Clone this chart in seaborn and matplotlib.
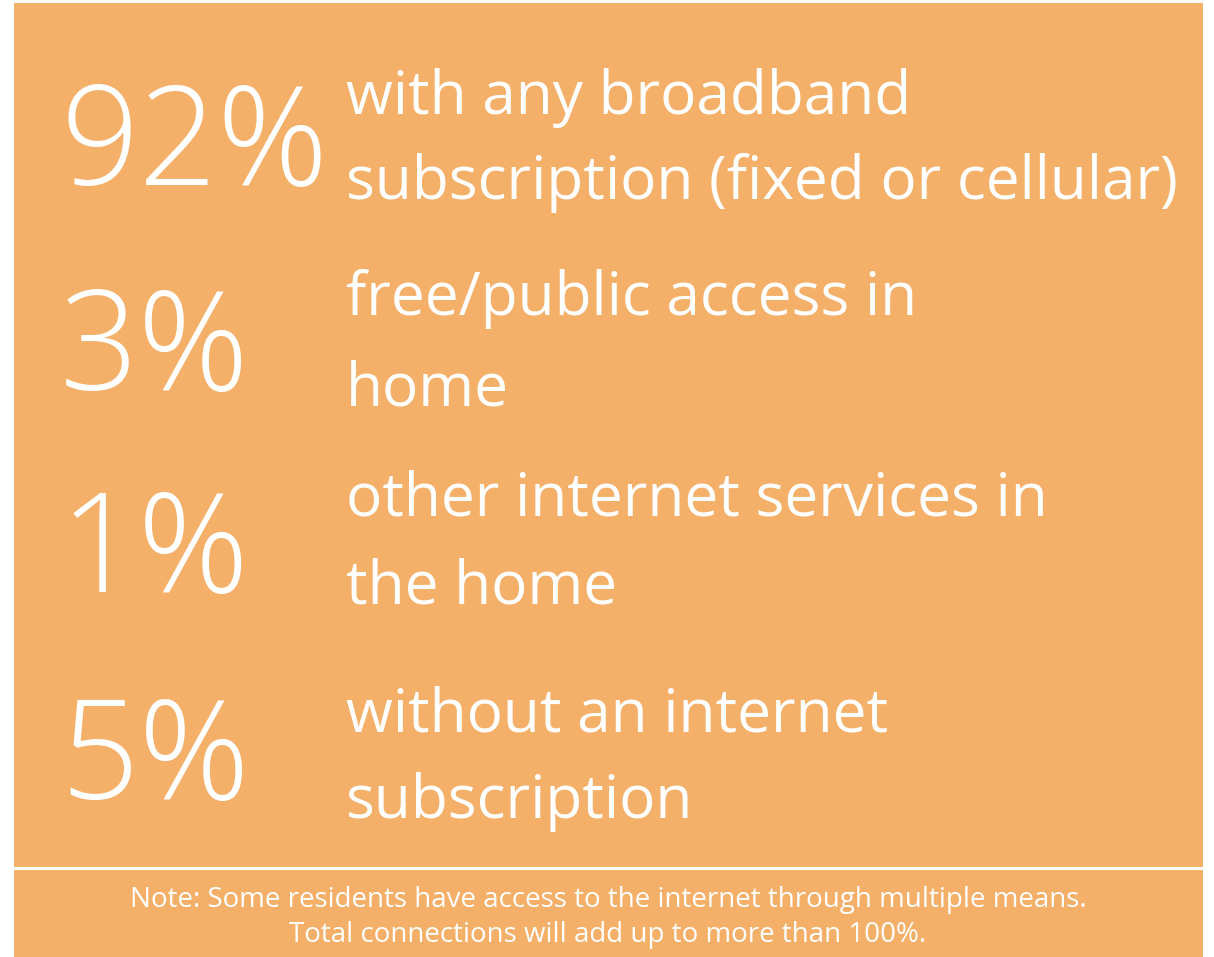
import matplotlib
matplotlib.use('Agg')
import matplotlib.pyplot as plt
import matplotlib.patches as mpatches
import seaborn as sns

sns.set_theme(style='white')
plt.rcParams['font.family'] = ['Open Sans', 'DejaVu Sans']

# values shown in the infographic
pct_values = [92, 3, 1, 5]
label_lines = [['with any broadband', 'subscription (fixed or cellular)'],
               ['free/public access in', 'home'],
               ['other internet services in', 'the home'],
               ['without an internet', 'subscription']]
note_lines = ['Note: Some residents have access to the internet through multiple means.',
              'Total connections will add up to more than 100%.']

bg_color = '#F4AF68'

# layout in pixels (figure is 1214 x 957)
num_base = [185, 390, 592, 799]
line_base = [[114, 199], [315, 405], [515, 603], [731, 818]]

fig = plt.figure(figsize=(12.14, 9.57), dpi=100)
ax = fig.add_axes([0, 0, 1, 1])
ax.set_xlim(0, 1214)
ax.set_ylim(957, 0)
ax.axis('off')

ax.add_patch(mpatches.Rectangle((14, 3), 1189, 864, color=bg_color, lw=0))
ax.add_patch(mpatches.Rectangle((14, 870), 1189, 90, color=bg_color, lw=0))

for v, nb, lines, lb in zip(pct_values, num_base, label_lines, line_base):
    ax.text(60, nb, '{}%'.format(v), color='white', fontsize=99, fontweight='light',
            ha='left', va='baseline')
    for txt, b in zip(lines, lb):
        ax.text(346, b, txt, color='white', fontsize=43.5, ha='left', va='baseline')

ax.text(608, 907, note_lines[0], color='white', fontsize=20, ha='center', va='baseline')
ax.text(608, 942, note_lines[1], color='white', fontsize=20, ha='center', va='baseline')

fig.savefig('out.png', dpi=100)
